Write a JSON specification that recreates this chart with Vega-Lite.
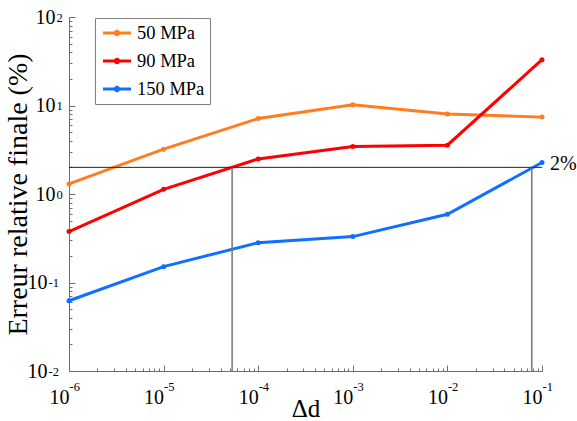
{
  "$schema": "https://vega.github.io/schema/vega-lite/v6.json",
  "width": 473,
  "height": 354,
  "autosize": "none",
  "padding": {"left": 69, "top": 17, "right": 35, "bottom": 50},
  "config": {
    "font": "Liberation Serif",
    "view": {"stroke": null},
    "axis": {"grid": false, "labelFlush": false, "labelOverlap": false, "labelBound": false, "labelColor": "black", "titleColor": "black", "titleFontWeight": "normal", "labelFont": "Liberation Serif", "titleFont": "Liberation Serif"},
    "legend": {"labelFont": "Liberation Serif"},
    "text": {"font": "Liberation Serif"}
  },
  "datasets": {
    "series": [
      {"d": 0.000001, "err": 1.30, "s": "50 MPa"},
      {"d": 0.00001, "err": 3.21, "s": "50 MPa"},
      {"d": 0.0001, "err": 7.13, "s": "50 MPa"},
      {"d": 0.001, "err": 10.2, "s": "50 MPa"},
      {"d": 0.01, "err": 8.0, "s": "50 MPa"},
      {"d": 0.1, "err": 7.39, "s": "50 MPa"},
      {"d": 0.000001, "err": 0.376, "s": "90 MPa"},
      {"d": 0.00001, "err": 1.13, "s": "90 MPa"},
      {"d": 0.0001, "err": 2.49, "s": "90 MPa"},
      {"d": 0.001, "err": 3.44, "s": "90 MPa"},
      {"d": 0.01, "err": 3.56, "s": "90 MPa"},
      {"d": 0.1, "err": 32.9, "s": "90 MPa"},
      {"d": 0.000001, "err": 0.0622, "s": "150 MPa"},
      {"d": 0.00001, "err": 0.151, "s": "150 MPa"},
      {"d": 0.0001, "err": 0.282, "s": "150 MPa"},
      {"d": 0.001, "err": 0.330, "s": "150 MPa"},
      {"d": 0.01, "err": 0.590, "s": "150 MPa"},
      {"d": 0.1, "err": 2.27, "s": "150 MPa"}
    ],
    "hline": [{"d": 0.000001, "d2": 0.1, "err": 2, "label": "2%"}],
    "vlines": [
      {"d": 0.000053, "err": 0.01, "err2": 2},
      {"d": 0.078, "err": 0.01, "err2": 2}
    ]
  },
  "resolve": {"axis": {"x": "independent", "y": "independent"}},
  "layer": [
    {
      "data": {"name": "series"},
      "mark": {"type": "line", "strokeWidth": 3},
      "encoding": {
        "x": {"field": "d", "type": "quantitative",
          "scale": {"type": "log", "domain": [0.000001, 0.1], "nice": false},
          "axis": {"orient": "bottom", "values": [0.000001, 0.00001, 0.0001, 0.001, 0.01, 0.1], "labels": false, "title": null, "domain": true, "domainColor": "#6e6e6e", "tickColor": "#6e6e6e", "tickSize": -6, "ticks": true}},
        "y": {"field": "err", "type": "quantitative",
          "scale": {"type": "log", "domain": [0.01, 100], "nice": false},
          "axis": {"orient": "left", "values": [0.01, 0.1, 1, 10, 100], "labels": false, "title": null, "domain": true, "domainColor": "#6e6e6e", "tickColor": "#6e6e6e", "tickSize": -6, "ticks": true}},
        "color": {"field": "s", "type": "nominal",
          "scale": {"domain": ["50 MPa", "90 MPa", "150 MPa"], "range": ["#ff7d1f", "#ff0000", "#0f6fff"]},
          "legend": {"title": null, "orient": "none", "legendX": 26, "legendY": 1,
            "strokeColor": "#808080", "fillColor": "white", "padding": 5,
            "labelFontSize": 18.5, "labelFont": "Liberation Serif", "labelColor": "black", "labelOffset": 10,
            "symbolType": "M-1.65,0L1.65,0M-0.2,0A0.2,0.2 0 1,0 0.2,0A0.2,0.2 0 1,0 -0.2,0",
            "symbolSize": 289, "symbolStrokeWidth": 3, "symbolOffset": 7, "rowPadding": 8}}
      }
    },
    {
      "data": {"name": "series"},
      "mark": {"type": "point", "filled": true, "size": 25, "opacity": 1},
      "encoding": {
        "x": {"field": "d", "type": "quantitative",
          "axis": {"orient": "bottom", "values": [0.000002,0.000003,0.000004,0.000005,0.000006,0.000007,0.000008,0.000009,0.00002,0.00003,0.00004,0.00005,0.00006,0.00007,0.00008,0.00009,0.0002,0.0003,0.0004,0.0005,0.0006,0.0007,0.0008,0.0009,0.002,0.003,0.004,0.005,0.006,0.007,0.008,0.009,0.02,0.03,0.04,0.05,0.06,0.07,0.08,0.09], "labels": false, "title": null, "domain": false, "tickColor": "#6e6e6e", "tickSize": -3}},
        "y": {"field": "err", "type": "quantitative",
          "axis": {"orient": "left", "values": [0.02,0.03,0.04,0.05,0.06,0.07,0.08,0.09,0.2,0.3,0.4,0.5,0.6,0.7,0.8,0.9,2,3,4,5,6,7,8,9,20,30,40,50,60,70,80,90], "labels": false, "title": null, "domain": false, "tickColor": "#6e6e6e", "tickSize": -3}},
        "color": {"field": "s", "type": "nominal", "legend": null}
      }
    },
    {
      "data": {"name": "hline"},
      "mark": {"type": "rule", "color": "#222222", "strokeWidth": 1},
      "encoding": {
        "x": {"field": "d", "type": "quantitative",
          "axis": {"orient": "bottom", "values": [0.000001, 0.00001, 0.0001, 0.001, 0.01, 0.1], "labelExpr": "'10'", "ticks": false, "domain": false, "labelFontSize": 20, "labelPadding": 26, "labelBaseline": "middle", "labelAlign": "right", "labelDx": 3,
            "title": "Δd", "titleFontSize": 25, "titlePadding": -11}},
        "x2": {"field": "d2"},
        "y": {"field": "err", "type": "quantitative",
          "axis": {"orient": "left", "values": [0.01, 0.1, 1, 10, 100], "labelExpr": "'10'", "ticks": false, "domain": false, "labelFontSize": 20, "labelBaseline": "middle", "labelAlign": "right", "labelDy": 6,
            "labelPadding": {"condition": {"test": "datum.value < 0.5", "value": 22}, "value": 14},
            "title": "Erreur relative finale (%)", "titleFontSize": 28, "titlePadding": -5}}
      }
    },
    {
      "data": {"name": "vlines"},
      "mark": {"type": "rule", "color": "#777777", "strokeWidth": 1.5},
      "encoding": {
        "x": {"field": "d", "type": "quantitative",
          "axis": {"orient": "bottom", "values": [0.000001, 0.00001, 0.0001, 0.001, 0.01, 0.1], "labelExpr": "'' + round(log(datum.value) / LN10)", "ticks": false, "domain": false, "labelFontSize": 12.5, "labelPadding": 15, "labelBaseline": "middle", "labelAlign": "left", "labelDx": 4, "title": null}},
        "y": {"field": "err", "type": "quantitative",
          "axis": {"orient": "left", "values": [0.01, 0.1, 1, 10, 100], "labelExpr": "'' + round(log(datum.value) / LN10)", "ticks": false, "domain": false, "labelFontSize": 12.5, "labelBaseline": "middle", "labelAlign": "left", "labelDy": -2,
            "labelPadding": {"condition": {"test": "datum.value < 0.5", "value": 21}, "value": 13}, "title": null}},
        "y2": {"field": "err2"}
      }
    },
    {
      "data": {"name": "hline"},
      "mark": {"type": "text", "align": "left", "baseline": "middle", "dx": 8, "dy": -3, "fontSize": 20, "font": "Liberation Serif", "color": "black"},
      "encoding": {
        "x": {"field": "d2", "type": "quantitative", "axis": null},
        "y": {"field": "err", "type": "quantitative", "axis": null},
        "text": {"field": "label"}
      }
    }
  ]
}
